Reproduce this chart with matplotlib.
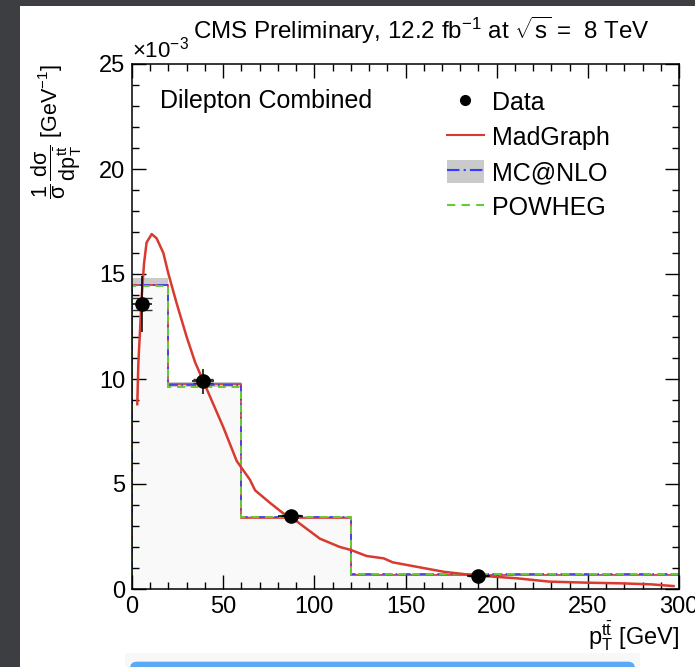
import matplotlib
matplotlib.use('Agg')
from matplotlib import pyplot as plt
from matplotlib.patches import Rectangle, FancyBboxPatch, Patch
from matplotlib.lines import Line2D
from matplotlib.ticker import MultipleLocator
import numpy as np

plt.rcParams['font.family'] = ['Liberation Sans', 'DejaVu Sans']
plt.rcParams['mathtext.fontset'] = 'custom'
plt.rcParams['mathtext.rm'] = 'Liberation Sans'
plt.rcParams['mathtext.it'] = 'Liberation Sans'
plt.rcParams['mathtext.default'] = 'regular'

# bin edges of the pT(ttbar) distribution (GeV)
edges = [0, 20, 60, 120, 300]

# normalised cross section, in units of 1e-3 GeV^-1
madgraph_hist = [14.50, 9.75, 3.38, 0.67]
mcatnlo_hist = [14.50, 9.70, 3.45, 0.70]
mcatnlo_lo = [14.45, 9.62, 3.38, 0.66]
mcatnlo_hi = [14.80, 9.85, 3.50, 0.72]
powheg_hist = [14.43, 9.62, 3.45, 0.70]

data_x = [5.3, 38.8, 87.0, 190.0]
data_y = [13.57, 9.90, 3.50, 0.63]
data_xerr = [5.5, 6.0, 6.7, 6.4]
data_yerr = [1.35, 0.60, 0.15, 0.06]
data_stat = [0.30, 0.10, 0.04, 0.02]

# MadGraph prediction with fine binning
mg_x = [2.9, 3.5, 4.4, 5.3, 6.6, 8.0, 10.8, 13.5, 17.2, 20.0, 24.5, 30.0,
        34.6, 39.1, 44.6, 50.1, 57.4, 64.7, 67.5, 75.7, 83.0, 87.0, 92.2,
        103.0, 114.0, 120.0, 128.7, 138.0, 143.0, 156.0, 171.0, 182.0,
        193.0, 211.0, 229.0, 250.0, 268.0, 285.0, 297.0]
mg_y = [8.8, 10.8, 12.3, 13.9, 15.5, 16.5, 16.9, 16.7, 16.0, 15.0, 13.6, 12.0,
        10.8, 9.9, 8.8, 7.7, 6.1, 5.2, 4.7, 4.1, 3.6, 3.45, 3.1,
        2.4, 2.0, 1.86, 1.57, 1.46, 1.27, 1.06, 0.82, 0.71,
        0.62, 0.51, 0.35, 0.30, 0.27, 0.22, 0.14]

red = '#d83a30'
blue = '#3a3aff'
green = '#66cc33'
band = '#cacaca'

fig = plt.figure(figsize=(6.95, 6.67), dpi=100, facecolor='#3c3e41')
# white page behind the plot
fig.patches.append(Rectangle((20 / 695, 0), 1, 1 - 6 / 667, transform=fig.transFigure,
                             facecolor='white', edgecolor='none', zorder=-10))
fig.patches.append(Rectangle((125 / 695, 0), 515 / 695, 14 / 667, transform=fig.transFigure,
                             facecolor='#f8f8f8', edgecolor='none', zorder=-9))
fig.patches.append(FancyBboxPatch((130 / 695, -0.02), 505 / 695, 0.028,
                                  boxstyle='round,pad=0,rounding_size=0.01',
                                  transform=fig.transFigure, facecolor='#5aaaf5',
                                  edgecolor='none', zorder=-8))

ax = fig.add_axes([132 / 695, 78 / 667, 547 / 695, 525 / 667])
ax.set_facecolor('none')

edges = np.array(edges)
step = lambda v: np.append(v, v[-1])

ax.fill_between(edges, step(madgraph_hist), step='post', color='#f9f9f9', lw=0)
ax.fill_between(edges, step(mcatnlo_lo), step(mcatnlo_hi), step='post', color=band, lw=0)
ax.stairs(madgraph_hist, edges, color=red, lw=1.2)
ax.stairs(mcatnlo_hist, edges, color=blue, lw=1.2, linestyle=(0, (6, 2, 1, 2)))
ax.stairs(powheg_hist, edges, color=green, lw=1.4, linestyle=(0, (4, 3)))
ax.plot(mg_x, mg_y, color=red, lw=1.8)

ax.errorbar(data_x, data_y, xerr=data_xerr, yerr=data_yerr, fmt='o', color='black',
            ms=9.5, elinewidth=1.1, capsize=0, zorder=5)
ax.errorbar(data_x, data_y, yerr=data_stat, fmt='none', ecolor='#333333',
            elinewidth=1.0, capsize=7.5, capthick=1.0, zorder=4)

ax.set_xlim(0, 300)
ax.set_ylim(0, 25)
ax.xaxis.set_major_locator(MultipleLocator(50))
ax.xaxis.set_minor_locator(MultipleLocator(10))
ax.yaxis.set_major_locator(MultipleLocator(5))
ax.yaxis.set_minor_locator(MultipleLocator(1))
ax.tick_params(which='both', direction='in', top=True, right=True, width=1.0,
               labelsize=17, pad=5)
ax.tick_params(which='major', length=10)
ax.tick_params(which='minor', length=5)
for s in ax.spines.values():
    s.set_linewidth(1.1)

ax.text(0, 1.003, r'$\times10^{-3}$', transform=ax.transAxes, fontsize=16,
        ha='left', va='bottom')

ax.set_ylabel(r'$\dfrac{1}{\sigma}\,\dfrac{d\sigma}{dp_{T}^{t\bar{t}}}$ [GeV$^{-1}$]',
              fontsize=15.5, loc='top')
ax.yaxis.set_label_coords(-0.088, 1.0)
ax.set_xlabel(r'$p_{T}^{t\bar{t}}$ [GeV]', fontsize=17, loc='right')
ax.xaxis.set_label_coords(1.0, -0.09)
ax.xaxis.label.set_verticalalignment('center')

ax.text(0.051, 0.93, 'Dilepton Combined', transform=ax.transAxes, fontsize=18,
        ha='left', va='center')
fig.text(0.607, 0.955, r'CMS Preliminary, 12.2 fb$^{-1}$ at $\sqrt{s}$ =  8 TeV',
         fontsize=17.4, ha='center', va='center')

handles = [
    Line2D([], [], marker='o', color='black', ls='none', ms=7),
    Line2D([], [], color=red, lw=1.5),
    (Patch(facecolor=band, edgecolor='none'),
     Line2D([], [], color=blue, lw=1.5, linestyle=(0, (6, 2, 1, 2)))),
    Line2D([], [], color=green, lw=1.5, linestyle=(0, (4, 3))),
]
labels = ['Data', 'MadGraph', 'MC@NLO', 'POWHEG']
ax.legend(handles, labels, loc='upper left', bbox_to_anchor=(0.557, 0.97),
          frameon=False, fontsize=18, handlelength=1.5, handleheight=1.0,
          handletextpad=0.3, labelspacing=0.42, borderaxespad=0)

fig.savefig('out.png', dpi=100, facecolor=fig.get_facecolor())
